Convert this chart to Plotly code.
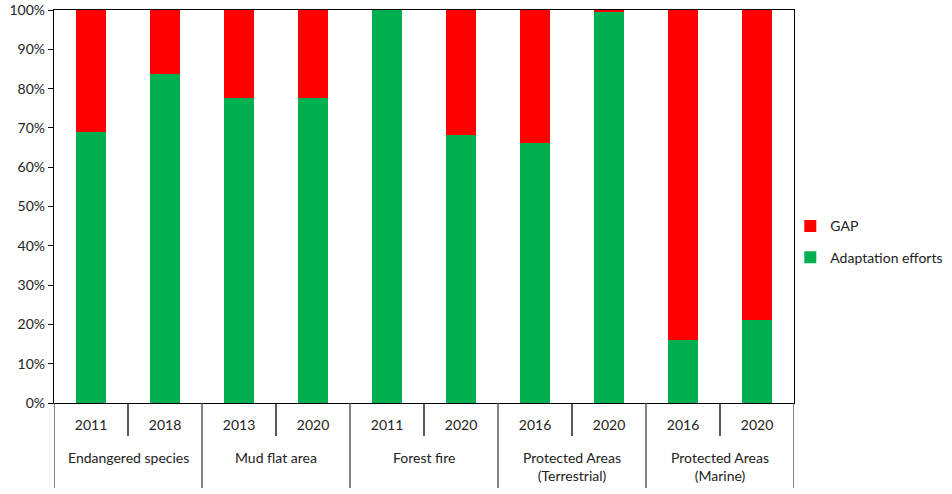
import plotly.graph_objects as go

group_names = ["Endangered species", "Mud flat area", "Forest fire",
               "Protected Areas<br>(Terrestrial)", "Protected Areas<br>(Marine)"]
years = ["2011", "2018", "2013", "2020", "2011", "2020", "2016", "2020", "2016", "2020"]
adaptation = [0.69, 0.836, 0.776, 0.776, 1.0, 0.681, 0.661, 0.994, 0.161, 0.212]
gap = [round(1 - a, 3) for a in adaptation]
per_group = 2

font = "Lato, 'Liberation Sans', sans-serif"
xs = list(range(len(years)))
H_PLOT = 393.0  # plot height in px for converting paper offsets

fig = go.Figure()
fig.add_trace(go.Bar(x=xs, y=adaptation, name="Adaptation efforts",
                     marker=dict(color="#00B050", line=dict(width=0)),
                     legendgroup="a", legendrank=2))
fig.add_trace(go.Bar(x=xs, y=gap, name="GAP",
                     marker=dict(color="#FF0000", line=dict(width=0)),
                     legendgroup="b", legendrank=1))

shapes = []
# group dividers (long)
for g in range(len(group_names) + 1):
    xb = g * per_group - 0.5
    shapes.append(dict(type="line", xref="x", yref="paper", x0=xb, x1=xb,
                       y0=0, y1=-85 / H_PLOT, line=dict(color="#444", width=1.3)))
# inner boundary ticks (short)
for g in range(len(group_names)):
    xb = g * per_group + 0.5
    shapes.append(dict(type="line", xref="x", yref="paper", x0=xb, x1=xb,
                       y0=0, y1=-33 / H_PLOT, line=dict(color="black", width=1.3)))

annotations = []
for g, name in enumerate(group_names):
    xc = g * per_group + (per_group - 1) / 2
    annotations.append(dict(x=xc, y=-44 / H_PLOT, xref="x", yref="paper", text=name,
                            showarrow=False, yanchor="top", xanchor="center",
                            font=dict(size=14, family=font, color="#222")))

fig.update_layout(
    barmode="stack",
    bargap=0.59,
    width=952, height=494,
    margin=dict(l=54, r=158, t=10, b=91, autoexpand=False),
    plot_bgcolor="white", paper_bgcolor="white",
    font=dict(family=font, size=14, color="#222"),
    legend=dict(x=0.995, y=0.41, xanchor="left", yanchor="middle",
                traceorder="grouped", tracegroupgap=10, bgcolor="rgba(0,0,0,0)",
                font=dict(size=14), itemwidth=30),
    showlegend=True,
    shapes=shapes,
    annotations=annotations,
)
fig.update_xaxes(range=[-0.5, len(years) - 0.5], tickvals=xs, ticktext=years,
                 showline=True, linecolor="black", linewidth=1.3, mirror=True,
                 ticks="", ticklabelstandoff=9, showgrid=False, zeroline=False,
                 automargin=False)
fig.update_yaxes(range=[0, 1], tickformat=".0%", dtick=0.1, showline=True, linecolor="black",
                 linewidth=1.3, mirror=True, ticks="outside", ticklen=5, tickcolor="black",
                 showgrid=False, zeroline=False, automargin=False)

fig.write_html("out.html", config={"displayModeBar": False},
               post_script="document.body.style.margin='0';document.body.style.overflow='hidden';")
